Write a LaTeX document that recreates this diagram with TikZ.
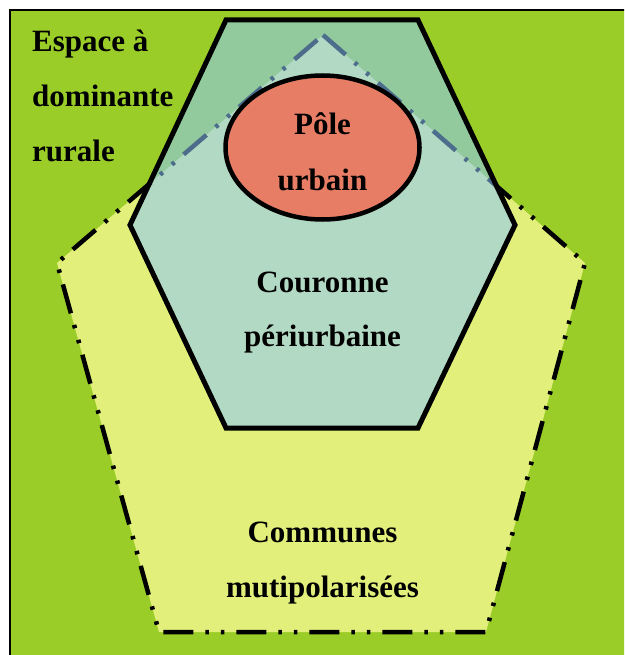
\documentclass[tikz,border=0pt]{standalone}
\usepackage{fontspec}
\setmainfont{Liberation Serif}
\definecolor{bggreen}{RGB}{154,205,40}
\definecolor{pentyellow}{RGB}{226,239,122}
\definecolor{hexblue}{RGB}{140,200,255}
\definecolor{polered}{RGB}{230,125,100}
\tikzset{
  frameline/.style={draw=black, line width=2pt, fill=bggreen},
  pentline/.style={draw=black, line width=4.5pt, fill=pentyellow,
    dash pattern=on 30pt off 12pt on 3.5pt off 12pt on 3.5pt off 12pt},
  hexline/.style={draw=black, line width=5pt, fill=hexblue, fill opacity=0.55, draw opacity=1, line join=miter},
  ellline/.style={draw=black, line width=4.5pt, fill=polered},
  lbl/.style={font=\fontsize{31}{55}\selectfont\bfseries, inner sep=0pt, text=black}
}
\begin{document}
\begin{tikzpicture}[x=1pt,y=-1pt]
\useasboundingbox (0,0) rectangle (624,655);
\clip (0,0) rectangle (624,655);
\fill[white] (0,0) rectangle (624,655);
\path[frameline] (10,10) rectangle (640,670);
% pentagon
\coordinate (P1) at (323,35);
\coordinate (P2) at (585,263);
\coordinate (P3) at (486,632);
\coordinate (P4) at (159,632);
\coordinate (P5) at (57,263);
\path[pentline] (P1) -- (P2) -- (P3) -- (P4) -- (P5) -- cycle;
% hexagon
\coordinate (H1) at (226,20);
\coordinate (H2) at (418,20);
\coordinate (H3) at (515,225);
\coordinate (H4) at (418,428);
\coordinate (H5) at (226,428);
\coordinate (H6) at (130,225);
\path[hexline] (H1) -- (H2) -- (H3) -- (H4) -- (H5) -- (H6) -- cycle;
% ellipse
\path[ellline] (322.5,147.5) ellipse [x radius=97, y radius=72];
% labels
\node[lbl, anchor=base west] (esp1) at (32,52) {Espace à};
\node[lbl, anchor=base west] (esp2) at (32,107) {dominante};
\node[lbl, anchor=base west] (esp3) at (32,162) {rurale};
\node[lbl, anchor=base] (pole1) at (322.5,135) {Pôle};
\node[lbl, anchor=base] (pole2) at (322.5,190) {urbain};
\node[lbl, anchor=base] (cour1) at (322.5,292) {Couronne};
\node[lbl, anchor=base] (cour2) at (322.5,346) {périurbaine};
\node[lbl, anchor=base] (comm1) at (322.5,542) {Communes};
\node[lbl, anchor=base] (comm2) at (322.5,597) {mutipolarisées};
\end{tikzpicture}
\end{document}
